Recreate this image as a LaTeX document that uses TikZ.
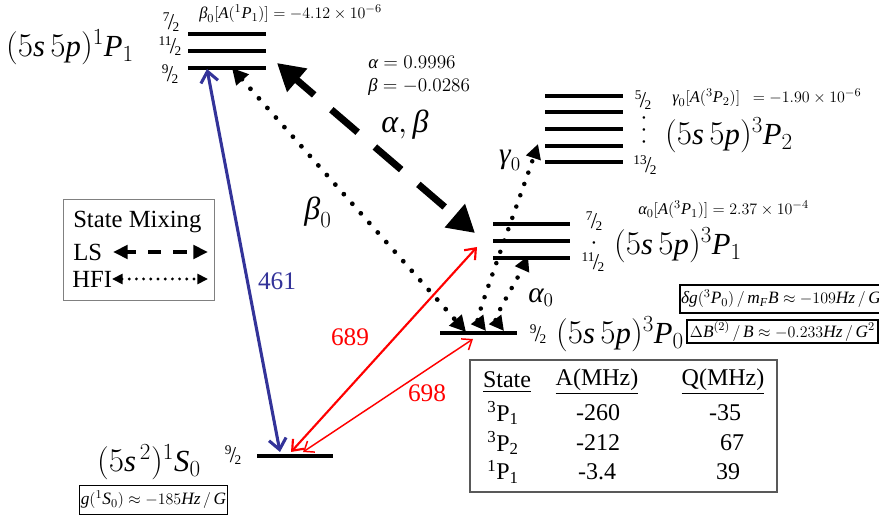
\documentclass[tikz,border=0pt]{standalone}
\usepackage{amsmath}
\usepackage{fontspec}
\setmainfont{Liberation Serif}
\usetikzlibrary{arrows.meta}
\newcommand\mi[1]{\textit{#1}}
\newcommand\hf[2]{\mbox{\raisebox{0.55em}{\fontsize{10}{10}\selectfont#1}\kern-0.12em\raisebox{-0.1em}{\fontsize{17}{17}\selectfont/}\kern-0.12em\raisebox{-0.25em}{\fontsize{10}{10}\selectfont#2}}}
\definecolor{lblue}{RGB}{51,51,153}
\definecolor{lred}{RGB}{255,0,0}
\begin{document}
\begin{tikzpicture}[x=0.75pt,y=-0.75pt,
  every node/.style={inner sep=0pt},
  level/.style={line width=3pt},
  big/.style={font=\fontsize{23}{27}\selectfont},
  huge/.style={font=\fontsize{24}{28}\selectfont},
  lab/.style={font=\fontsize{22}{26}\selectfont},
  ann/.style={font=\fontsize{12.3}{14}\selectfont},
  mid/.style={font=\fontsize{14}{16}\selectfont},
  wl/.style={font=\fontsize{19}{22}\selectfont},
  tab/.style={font=\fontsize{18}{21}\selectfont},
  leg/.style={font=\fontsize{18.5}{21}\selectfont},
  frac/.style={font=\fontsize{10}{10}\selectfont},
  vdot/.style={font=\fontsize{8}{9}\selectfont, align=center},
  boxlab/.style={draw, line width=1.1pt, font=\fontsize{13}{15}\selectfont, inner sep=1pt},
  lsarrow/.style={line width=5.2pt, dash pattern=on 26pt off 17pt, dash phase=8pt,
     {Triangle[length=20pt,width=22pt]}-{Triangle[length=20pt,width=22pt]}},
  hfiarrow/.style={line width=3.6pt, line cap=round, dash pattern=on 0pt off 9.6pt,
     {Triangle[length=12pt,width=12pt]}-{Triangle[length=12pt,width=12pt]}},
  hfismall/.style={line width=3.4pt, line cap=round, dash pattern=on 0pt off 9pt,
     {Triangle[length=11pt,width=11pt]}-{Triangle[length=11pt,width=11pt]}},
  legls/.style={line width=3.6pt, dash pattern=on 10pt off 9pt, dash phase=3pt,
     {Triangle[length=11pt,width=10pt]}-{Triangle[length=11pt,width=10pt]}},
  leghfi/.style={line width=2.4pt, line cap=round, dash pattern=on 0pt off 5.4pt,
     {Triangle[length=8pt,width=7.5pt]}-{Triangle[length=8pt,width=7.5pt]}},
  bluearr/.style={draw=lblue, line width=2.3pt,
     {Straight Barb[length=8pt,width=13pt]}-{Straight Barb[length=8pt,width=13pt]}},
  redarrA/.style={draw=lred, line width=1.6pt,
     {Straight Barb[length=7pt,width=11pt]}-{Straight Barb[length=7pt,width=11pt]}},
  redarrB/.style={draw=lred, line width=1.1pt,
     {Straight Barb[length=6.5pt,width=10pt]}-{Straight Barb[length=6.5pt,width=10pt]}}
]
\useasboundingbox (0,0) rectangle (879,516);

% ---------- levels ----------
\draw[level] (188,34) -- (266,34);
\draw[level] (188,51) -- (266,51);
\draw[level] (188,68) -- (266,68);
\foreach \yy in {96,112,129,146,162} \draw[level] (545,\yy) -- (623,\yy);
\draw[level] (493,224) -- (570,224);
\draw[level] (493,241) -- (570,241);
\draw[level] (493,258) -- (570,258);
\draw[level] (440,333) -- (517,333);
\draw[level] (257,456) -- (333,456);

% ---------- 1P1 ----------
\node[big] (l1p1) at (70,47) {$(5\mi{s}\,5\mi{p})^{1}\mi{P}_{1}$};
\node[frac] (fa) at (171,22) {\hf72};
\node[frac] (fb) at (170,46) {\hf{11}2};
\node[frac] (fc) at (170,74) {\hf92};
\node[ann, anchor=west] (b0ann) at (199,14) {$\mi{β}_0[\mi{A}({}^1\mi{P}_1)] = -4.12\times10^{-6}$};

% ---------- mixing text ----------
\node[mid, anchor=west] (alv) at (368,62) {$\mi{α} = 0.9996$};
\node[mid, anchor=west] (bev) at (368,87) {$\mi{β} = -0.0286$};
\node[huge] (ab) at (405,125) {$\mi{α}, \mi{β}$};
\node[huge] (b0l) at (318,212) {$\mi{β}_0$};
\node[lab] (g0l) at (510,160) {$\mi{γ}_0$};
\node[lab] (a0l) at (541,298) {$\mi{α}_0$};

% ---------- 3P2 ----------
\node[frac] (fd) at (643,100) {\hf52};
\node[vdot] (vd) at (644,131) {•\\•\\•};
\node[frac] (fe) at (645,165) {\hf{13}2};
\node[ann, anchor=west] (g0ann) at (672,98) {$\mi{γ}_0[\mi{A}({}^3\mi{P}_2)]\ \ = -1.90\times10^{-6}$};
\node[big] (l3p2) at (729,135) {$(5\mi{s}\,5\mi{p})^{3}\mi{P}_{2}$};

% ---------- 3P1 ----------
\node[frac] (ff) at (594,221) {\hf72};
\node[vdot] (vd1) at (594,244) {•};
\node[frac] (fg) at (593,262) {\hf{11}2};
\node[ann, anchor=west] (a0ann) at (638,210) {$\mi{α}_0[\mi{A}({}^3\mi{P}_1)] = 2.37\times10^{-4}$};
\node[big] (l3p1) at (678,245) {$(5\mi{s}\,5\mi{p})^{3}\mi{P}_{1}$};

% ---------- 3P0 ----------
\node[frac] (fh) at (538,334) {\hf92};
\node[big] (l3p0) at (620,334) {$(5\mi{s}\,5\mi{p})^{3}\mi{P}_{0}$};
\node[boxlab, minimum width=144pt, minimum height=21pt] (dg) at (781,299)
  {$\mi{δg}({}^3\mi{P}_0)\,/\,\mi{m}_{\mi{F}}\mi{B} \approx -109\mi{Hz}\,/\,\mi{G}$};
\node[boxlab, minimum width=143pt, minimum height=17pt] (db) at (782.5,331.5)
  {$\Delta\mi{B}^{(2)}\,/\,\mi{B} \approx -0.233\mi{Hz}\,/\,\mi{G}^2$};

% ---------- 1S0 ----------
\node[frac] (fi) at (233,455) {\hf92};
\node[big] (l1s0) at (149,462) {$(5\mi{s}^{\,2})^{1}\mi{S}_{0}$};
\node[boxlab, minimum width=107pt, minimum height=22pt] (g1s0) at (153.5,500)
  {$\mi{g}({}^1\mi{S}_0) \approx -185\mi{Hz}\,/\,\mi{G}$};

% ---------- legend ----------
\draw[gray, line width=0.7pt] (63,199) rectangle (214,300);
\node[leg, anchor=west] (legt) at (73,222) {State Mixing};
\node[leg, anchor=west] (legls) at (73,252) {LS};
\node[leg, anchor=west] (leghfi) at (72,279) {HFI};
\coordinate (lsA) at (113,252); \coordinate (lsB) at (208,252);
\coordinate (hfA) at (112,279); \coordinate (hfB) at (208,279);
\draw[legls] (lsA) -- (lsB);
\draw[leghfi] (hfA) -- (hfB);

% ---------- table ----------
\draw[gray!70!black, line width=0.8pt] (470,360) rectangle (777,492);
\node[tab] (th1) at (507,382) {\underline{State}};
\node[tab] (th2) at (597,382) {\underline{A(MHz)}};
\node[tab] (th3) at (723,382) {\underline{Q(MHz)}};
\node[tab] (r1a) at (503,413) {\textsuperscript{3}P\textsubscript{1}};
\node[tab] (r1b) at (598,413) {-260};
\node[tab] (r1c) at (725,413) {-35};
\node[tab] (r2a) at (503,443) {\textsuperscript{3}P\textsubscript{2}};
\node[tab] (r2b) at (598,443) {-212};
\node[tab] (r2c) at (732,443) {67};
\node[tab] (r3a) at (503,472) {\textsuperscript{1}P\textsubscript{1}};
\node[tab] (r3b) at (597,472) {-3.4};
\node[tab] (r3c) at (728,472) {39};

% ---------- transitions ----------
\coordinate (bT) at (207,69);  \coordinate (bB) at (280,452);
\coordinate (rAT) at (477,247); \coordinate (rAB) at (291,452);
\coordinate (rBT) at (473,339); \coordinate (rBB) at (303,452);
\draw[bluearr] (bT) -- (bB);
\draw[redarrA] (rAB) -- (rAT);
\draw[redarrB] (rBB) -- (rBT);
\node[wl, text=lblue] (w461) at (277,281) {461};
\node[wl, text=lred] (w689) at (350,337) {689};
\node[wl, text=lred] (w698) at (427,393) {698};

% ---------- mixing arrows ----------
\coordinate (dT) at (277,63);  \coordinate (dB) at (475,233);
\coordinate (hT) at (232,68);  \coordinate (hB) at (466,332);
\coordinate (gB) at (486,331); \coordinate (gT) at (538,144);
\coordinate (aB) at (504,331); \coordinate (aT) at (528,256);
\draw[lsarrow] (dT) -- (dB);
\draw[hfiarrow] (hT) -- (hB);
\draw[hfismall] (gB) .. controls (476,318) and (524,186) .. (gT);
\draw[hfismall] (aB) .. controls (494,318) and (520,274) .. (aT);
\end{tikzpicture}
\end{document}
